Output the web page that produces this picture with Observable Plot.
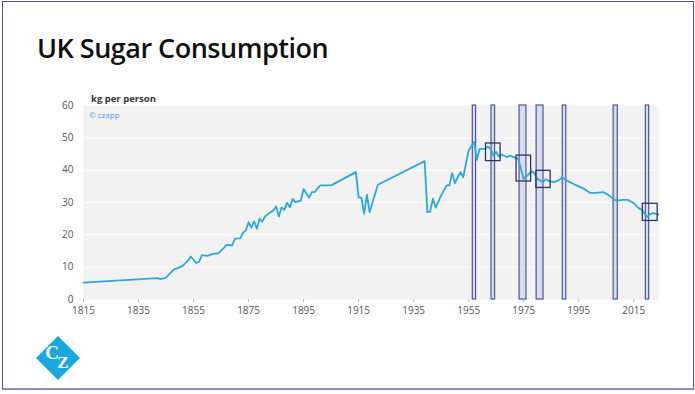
<!DOCTYPE html>
<html>
<head>
<meta charset="utf-8">
<script src="https://cdn.jsdelivr.net/npm/d3@7"></script>
<script src="https://cdn.jsdelivr.net/npm/@observablehq/plot@0.6"></script>
<style>
  html, body { margin: 0; padding: 0; background: #fff; }
  #page { position: relative; width: 695px; height: 394px; overflow: hidden; font-family: "Open Sans", sans-serif; }
  #frame { position: absolute; left: 2px; top: 1px; width: 690px; height: 386px; border: 1px solid #4b5488; border-bottom: 2px solid #8a90aa; box-sizing: content-box; }
  #title { position: absolute; left: 37px; top: 34px; font-size: 27px; line-height: 1; font-weight: 600; color: #111; letter-spacing: -0.5px; white-space: nowrap; }
  #ylabel { position: absolute; left: 91px; top: 94px; font-size: 9.5px; line-height: 1; font-weight: 700; color: #333; }
  #credit { position: absolute; left: 89px; top: 111px; font-size: 8px; line-height: 1; color: #4aa3d8; }
  #chart { position: absolute; left: 0; top: 0; }
  #logo { position: absolute; left: 34px; top: 334px; }
</style>
</head>
<body>
<div id="page">
  <div id="chart"></div>
  <div id="frame"></div>
  <div id="title">UK Sugar Consumption</div>
  <div id="ylabel">kg per person</div>
  <div id="credit">© czapp</div>
  <svg id="logo" width="48" height="48" viewBox="0 0 48 48">
    <polygon points="24,2 46,24 24,46 2,24" fill="#1ba8e0"/>
    <text x="18" y="25" font-family="Liberation Serif, serif" font-size="19" font-weight="bold" fill="#fff" text-anchor="middle">C</text>
    <text x="29" y="34" font-family="Liberation Serif, serif" font-size="17" font-weight="bold" fill="#fff" text-anchor="middle">Z</text>
  </svg>
</div>
<script>
// Data
const years = [1815, 1842, 1843, 1844, 1845, 1848, 1849, 1851, 1853, 1854, 1856, 1857, 1858, 1860, 1862, 1864, 1866, 1867, 1869, 1870, 1872, 1873, 1874, 1875, 1876, 1877, 1878, 1879, 1880, 1881, 1883, 1884, 1885, 1886, 1887, 1888, 1889, 1890, 1891, 1892, 1894, 1895, 1897, 1898, 1899, 1901, 1905, 1914, 1915, 1916, 1917, 1918, 1919, 1922, 1939, 1940, 1941, 1942, 1943, 1945, 1947, 1948, 1949, 1950, 1951, 1952, 1953, 1955, 1957, 1958, 1959, 1961, 1962, 1963, 1964, 1965, 1966, 1967, 1969, 1970, 1972, 1973, 1974, 1975, 1977, 1978, 1979, 1980, 1982, 1983, 1984, 1986, 1988, 1989, 1991, 1993, 1995, 1997, 1999, 2001, 2004, 2006, 2008, 2009, 2011, 2013, 2015, 2017, 2018, 2019, 2020, 2021, 2022, 2024];
const kgPerPerson = [5.2, 6.6, 6.3, 6.5, 6.8, 9.4, 9.6, 10.4, 12.0, 13.3, 11.3, 11.6, 13.7, 13.5, 14.1, 14.3, 16.0, 16.9, 16.7, 18.8, 18.9, 20.7, 21.3, 23.9, 22.2, 24.2, 21.9, 25.0, 24.1, 25.7, 27.0, 27.5, 28.8, 25.7, 28.5, 27.7, 29.9, 28.5, 31.1, 30.1, 30.6, 34.2, 31.5, 33.2, 33.2, 35.3, 35.3, 39.4, 31.6, 31.5, 26.5, 32.4, 27.0, 35.5, 42.8, 27.0, 27.2, 31.2, 28.4, 32.2, 35.3, 35.3, 39.1, 36.0, 37.8, 39.4, 37.8, 46.1, 48.7, 43.2, 46.6, 46.6, 47.3, 46.5, 44.5, 45.6, 44.2, 44.8, 44.0, 44.5, 43.8, 43.5, 40.4, 37.3, 38.9, 39.7, 38.9, 37.3, 36.3, 37.2, 36.7, 36.3, 37.0, 37.8, 36.6, 35.8, 35.0, 34.2, 33.0, 33.0, 33.2, 32.2, 30.8, 30.6, 30.8, 30.8, 29.8, 28.1, 27.7, 26.5, 25.5, 26.5, 26.7, 26.3];

// Highlighted periods (vertical bands)
const bandStart = [1956.5, 1963.3, 1973.5, 1979.7, 1989.2, 2007.7, 2019.4];
const bandEnd   = [1957.7, 1964.6, 1976.0, 1982.2, 1990.5, 2009.2, 2020.6];

// Highlight boxes
const boxX1 = [1961.3, 1972.4, 1979.6, 2018.3];
const boxX2 = [1966.6, 1977.7, 1984.8, 2023.7];
const boxY1 = [42.8, 36.5, 34.5, 24.3];
const boxY2 = [48.25, 44.5, 39.8, 29.6];

const xTicks = [1815, 1835, 1855, 1875, 1895, 1915, 1935, 1955, 1975, 1995, 2015];
const yTicks = [0, 10, 20, 30, 40, 50, 60];

const series = years.map((y, i) => ({year: y, value: kgPerPerson[i]}));
const bands = bandStart.map((s, i) => ({x1: s, x2: bandEnd[i]}));
const boxes = boxX1.map((s, i) => ({x1: s, x2: boxX2[i], y1: boxY1[i], y2: boxY2[i]}));

const chart = Plot.plot({
  width: 695,
  height: 394,
  marginLeft: 83,
  marginRight: 37,
  marginTop: 105,
  marginBottom: 95,
  style: {fontFamily: "Open Sans", fontSize: "10px", color: "#555", background: "transparent"},
  x: {domain: [1815, 2024]},
  y: {domain: [0, 60]},
  marks: [
    Plot.frame({fill: "#f2f2f2", stroke: null}),
    Plot.gridY({ticks: [10, 20, 30, 40, 50], stroke: "#ffffff", strokeOpacity: 1, strokeWidth: 1}),
    Plot.rect(bands, {x1: "x1", x2: "x2", y1: 0, y2: 60, fill: "#d6d9ee", fillOpacity: 0.9, stroke: "#4f5891", strokeWidth: 1.2}),
    Plot.lineY(series, {x: "year", y: "value", stroke: "#2ba8df", strokeWidth: 1.8}),
    Plot.rect(boxes, {x1: "x1", x2: "x2", y1: "y1", y2: "y2", fill: "none", stroke: "#2c3566", strokeWidth: 1.3}),
    Plot.axisX({ticks: xTicks, tickFormat: d => String(d), tickSize: 3, tickPadding: 4, label: null, stroke: "#bbb", fill: "#555"}),
    Plot.axisY({ticks: yTicks, tickSize: 0, tickPadding: 10, label: null, fill: "#555"})
  ]
});
document.getElementById("chart").appendChild(chart);
</script>
</body>
</html>
